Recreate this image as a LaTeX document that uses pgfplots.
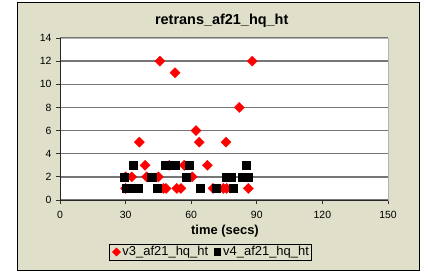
\documentclass[border=0pt]{standalone}
\usepackage{pgfplots}
\pgfplotsset{compat=1.18}
\usepackage{fontspec}
\setmainfont{Liberation Sans}
\definecolor{bgbeige}{RGB}{224,223,201}
\definecolor{gridgray}{RGB}{118,118,118}
\begin{document}
\begin{tikzpicture}[x=1bp,y=1bp]
\useasboundingbox (0,0) rectangle (428,273);
\fill[white] (0,0) rectangle (428,273);
\filldraw[fill=bgbeige, draw=black, line width=1bp] (17.5,2.5) rectangle (419.5,270.5);
\begin{axis}[
  at={(60bp,73bp)}, anchor=south west,
  scale only axis, width=328bp, height=162bp,
  xmin=0, xmax=150, ymin=0, ymax=14,
  xtick={0,30,...,150}, ytick={0,2,...,14},
  axis background/.style={fill=white},
  axis line style={draw=gray!60, line width=0.8bp},
  ymajorgrids, grid style={draw=gridgray, line width=1.5bp},
  tick align=outside, xtick pos=bottom, ytick pos=left,
  major tick length=4bp, tick style={draw=black!80, line width=0.8bp},
  /pgf/number format/assume math mode=true,
  tick label style={font=\fontsize{10.5}{12}\selectfont, text=black},
  xticklabel style={yshift=-4bp},
  yticklabel style={xshift=-1bp},
  title={retrans\_af21\_hq\_ht},
  title style={font=\bfseries\fontsize{14.5}{17}\selectfont, at={(0.493,1.049)}, anchor=base, inner sep=0pt},
  xlabel={time (secs)},
  xlabel style={font=\bfseries\fontsize{13}{15}\selectfont, at={(0.503,-0.21)}, anchor=base, inner sep=0pt},
  legend style={at={(0.4588,-0.321)}, anchor=center, legend columns=2, draw=black, fill=bgbeige,
    font=\fontsize{13}{15}\selectfont, /tikz/every even column/.append style={column sep=3bp},
    inner sep=2bp, nodes={inner sep=0.8bp}},
  legend image code/.code={\path (0bp,0bp) (10bp,0bp); \draw[mark repeat=2,mark phase=2,/tikz/every mark/.append style={scale=0.8}] plot coordinates {(0bp,0bp)(5bp,0bp)(10bp,0bp)};},
  after end axis/.code={\draw[black!85, line width=1bp] (rel axis cs:0,1) -- (rel axis cs:0,0) -- (rel axis cs:1,0);},
]
\addplot[only marks, mark=square*, mark size=3.6bp, red, mark options={rotate=45, draw=red, fill=red, line width=0.3bp}] coordinates {
(36.3,5) (62.2,6) (63.7,5) (75.9,5) (45.7,12) (52.6,11) (87.9,12) (82,8)
(38.9,3) (50,3) (56.8,3) (67.4,3)
(30,2) (32.8,2) (39.6,2) (45,2) (60.5,2)
(30,1) (47.3,1) (48.5,1) (53.4,1) (55.3,1) (70,1) (74.7,1) (76.2,1) (86.1,1)
};
\addlegendentry{v3\_af21\_hq\_ht}
\addplot[only marks, mark=square*, mark size=4.2bp, black, mark options={line width=0.3bp}] coordinates {
(29.3,2) (30.5,1) (33.2,1) (35.8,1) (33.4,3) (41.9,2) (44.5,1)
(48.2,3) (50.3,3) (52.4,3) (57.6,2) (59.1,3) (64,1) (71.5,1)
(75.9,2) (78,2) (79.3,1) (85.1,3) (83.5,2) (86.1,2)
};
\addlegendentry{v4\_af21\_hq\_ht}
\end{axis}
\end{tikzpicture}
\end{document}
